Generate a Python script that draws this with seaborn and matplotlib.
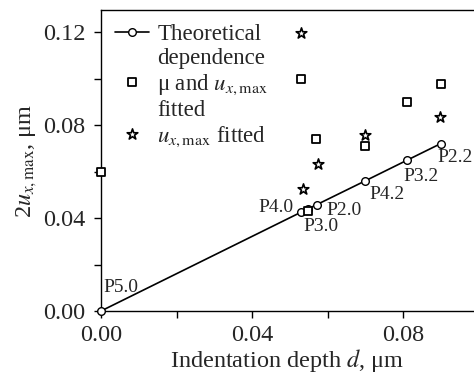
import matplotlib
matplotlib.use("Agg")
import matplotlib.pyplot as plt
import matplotlib.ticker as tck
import seaborn as sns

# theoretical dependence (circles on a line)
theo_d = [0.0, 0.0530, 0.0549, 0.0571, 0.0699, 0.0810, 0.0900]
theo_u = [0.0, 0.0425, 0.0440, 0.0457, 0.0559, 0.0648, 0.0720]
theo_names = ["P5.0", "P4.0", "P3.0", "P2.0", "P4.2", "P3.2", "P2.2"]

# mu and u_x,max fitted (squares)
sq_d = [0.0, 0.0529, 0.0549, 0.0569, 0.0700, 0.0810, 0.0900]
sq_u = [0.0598, 0.0997, 0.0430, 0.0740, 0.0710, 0.0900, 0.0976]

# u_x,max fitted (stars)
st_d = [0.0529, 0.0536, 0.0574, 0.0700, 0.0899]
st_u = [0.1197, 0.0526, 0.0631, 0.0756, 0.0833]

# label offsets in pixels (dx, dy, ha)
offsets = {
    "P5.0": (2, 23, "left"),
    "P4.0": (-8, 5, "right"),
    "P3.0": (-5, -18, "left"),
    "P2.0": (10, -6, "left"),
    "P4.2": (5, -13, "left"),
    "P3.2": (-3, -16, "left"),
    "P2.2": (-3, -14, "left"),
}

sns.set_style("ticks")
plt.rcParams["font.family"] = ["Liberation Serif", "DejaVu Serif"]
plt.rcParams["mathtext.fontset"] = "stix"

fig = plt.figure(figsize=(4.74, 3.74), dpi=100)
ax = fig.add_axes([101 / 474, 1 - 311 / 374, 1 - 101 / 474, 301 / 374])

sns.lineplot(x=theo_d, y=theo_u, ax=ax, color="black", lw=1.2, marker="o",
             markersize=5.5, markerfacecolor="white", markeredgecolor="black",
             markeredgewidth=1.0, label="Theoretical\ndependence", zorder=3,
             clip_on=False)
sns.scatterplot(x=sq_d, y=sq_u, ax=ax, marker="s", s=30, facecolor="white",
                edgecolor="black", linewidth=1.3,
                label="\u03bc and $u_{x,\\mathrm{max}}$\nfitted", zorder=4,
                clip_on=False)
sns.scatterplot(x=st_d, y=st_u, ax=ax, marker="*", s=65, facecolor="white",
                edgecolor="black", linewidth=1.2,
                label="$u_{x,\\mathrm{max}}$ fitted", zorder=4, clip_on=False)

for name, d, u in zip(theo_names, theo_d, theo_u):
    dx, dy, ha = offsets[name]
    ax.annotate(name, (d, u), xytext=(dx * 0.72, dy * 0.72),
                textcoords="offset points", ha=ha, va="center", fontsize=14)

ax.set_xlim(0, (474 - 101) / 3775)
ax.set_ylim(0, 301 / 2325)
ax.xaxis.set_major_locator(tck.MultipleLocator(0.04))
ax.xaxis.set_minor_locator(tck.MultipleLocator(0.02))
ax.yaxis.set_major_locator(tck.MultipleLocator(0.04))
ax.yaxis.set_minor_locator(tck.MultipleLocator(0.02))
ax.xaxis.set_major_formatter(tck.FormatStrFormatter("%.2f"))
ax.yaxis.set_major_formatter(tck.FormatStrFormatter("%.2f"))
ax.tick_params(which="both", direction="out", length=5, width=1.0,
               color="black", labelsize=17.5)
ax.tick_params(axis="y", pad=6)
ax.tick_params(axis="x", pad=5)
for side in ["left", "bottom", "top"]:
    ax.spines[side].set_color("black")
    ax.spines[side].set_linewidth(1.0)
ax.spines["right"].set_visible(False)

ax.set_xlabel("Indentation depth $d$, \u03bcm", fontsize=17.5, labelpad=1)
ax.set_ylabel("2$u_{x,\\mathrm{max}}$, \u03bcm", fontsize=17.5, labelpad=3)

leg = ax.legend(loc="upper left", frameon=False, fontsize=16.5,
                handlelength=1.5, handletextpad=0.35, labelspacing=0.15,
                borderaxespad=0.1, borderpad=0.5)
# put the legend markers next to the first line of each label
for col in leg._legend_handle_box.get_children():
    for row in col.get_children():
        row.align = "top"

fig.savefig("out.png", dpi=100)
